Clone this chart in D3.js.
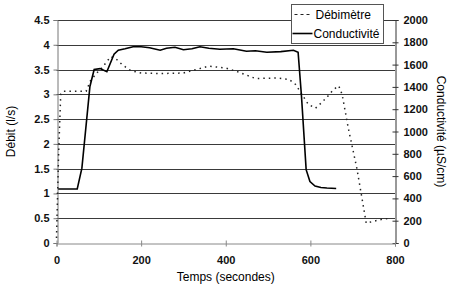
<!DOCTYPE html>
<html lang="fr">
<head>
<meta charset="UTF-8">
<title>Débit et conductivité</title>
<script src="https://cdn.jsdelivr.net/npm/d3@7"></script>
<style>
  body { margin: 0; background: #fff; }
  svg { display: block; font-family: "Liberation Sans", Arial, sans-serif; }
  .line { fill: none; }
</style>
</head>
<body>
<script>
// Débimètre (l/s)
const debitTime = [0, 5, 10, 15, 70, 80, 95, 107, 118, 128, 140, 155, 175, 200, 250, 300, 330, 360, 380, 400, 430, 470, 520, 550, 565, 580, 595, 612, 625, 640, 655, 667, 675, 690, 710, 725, 732, 750, 770, 790];
const debitVal  = [0.1, 1.8, 3.0, 3.06, 3.06, 3.27, 3.43, 3.53, 3.65, 3.76, 3.72, 3.6, 3.48, 3.43, 3.42, 3.43, 3.5, 3.57, 3.55, 3.53, 3.45, 3.32, 3.33, 3.3, 3.2, 3.0, 2.8, 2.72, 2.82, 2.95, 3.1, 3.17, 3.0, 2.3, 1.5, 0.75, 0.4, 0.44, 0.48, 0.5];

// Conductivité (µS/cm)
const condTime = [4, 49, 60, 79, 89, 103, 119, 136, 146, 162, 181, 200, 220, 245, 260, 280, 300, 320, 339, 360, 386, 418, 449, 470, 497, 530, 560, 571, 579, 590, 599, 611, 625, 639, 661];
const condVal  = [484, 484, 671, 1404, 1556, 1564, 1536, 1693, 1729, 1742, 1760, 1760, 1751, 1729, 1747, 1756, 1733, 1742, 1760, 1747, 1738, 1742, 1720, 1724, 1711, 1716, 1729, 1711, 1316, 658, 551, 511, 498, 493, 489];

const xTicks = [0, 200, 400, 600, 800];
const leftTicks = [0, 0.5, 1, 1.5, 2, 2.5, 3, 3.5, 4, 4.5];
const rightTicks = [0, 200, 400, 600, 800, 1000, 1200, 1400, 1600, 1800, 2000];

const width = 450, height = 287;
const margin = { top: 20, right: 55, bottom: 44, left: 56.5 };

const svg = d3.select("body").append("svg")
    .attr("width", width)
    .attr("height", height);

const xscale = d3.scaleLinear().domain([0, 800]).range([margin.left, width - margin.right]);
const yLeft = d3.scaleLinear().domain([0, 4.5]).range([height - margin.bottom, margin.top]);
const yRight = d3.scaleLinear().domain([0, 2000]).range([height - margin.bottom, margin.top]);

const x0 = xscale(0), x1 = xscale(800), yb = yLeft(0);

// gridlines
svg.append("g")
    .selectAll("line")
    .data(leftTicks.filter(d => d > 0))
    .enter().append("line")
    .attr("x1", x0).attr("x2", x1)
    .attr("y1", d => Math.round(yLeft(d)) + 0.5)
    .attr("y2", d => Math.round(yLeft(d)) + 0.5)
    .attr("stroke", "#3a3a3a")
    .attr("stroke-width", 1);

// left axis
const gl = svg.append("g")
    .attr("transform", `translate(${Math.round(x0) + 0.5},0)`)
    .call(d3.axisLeft(yLeft).tickValues(leftTicks).tickSize(4).tickPadding(4).tickFormat(d3.format("")));
gl.select(".domain").attr("stroke", "#777");
gl.selectAll(".tick line").attr("stroke", "#777");

// right axis
const gr = svg.append("g")
    .attr("transform", `translate(${Math.round(x1) + 0.5},0)`)
    .call(d3.axisRight(yRight).tickValues(rightTicks).tickSize(3).tickPadding(5).tickFormat(d3.format("")));
gr.select(".domain").attr("stroke", "#333");
gr.selectAll(".tick line").attr("x1", -3).attr("stroke", "#333");

// bottom axis
const gb = svg.append("g")
    .attr("transform", `translate(0,${Math.round(yb) + 0.5})`)
    .call(d3.axisBottom(xscale).tickValues(xTicks).tickSize(3).tickPadding(10));
gb.select(".domain").attr("stroke", "#888");
gb.selectAll(".tick line").attr("y1", -3).attr("stroke", "#888");

svg.selectAll(".tick text")
    .style("font-size", "11px")
    .style("font-weight", "bold")
    .style("font-family", "'Liberation Sans', Arial, sans-serif")
    .attr("fill", "#111");

// lines
const debitLine = d3.line()
    .x((d, i) => xscale(debitTime[i]))
    .y(d => yLeft(d));

const condLine = d3.line()
    .x((d, i) => xscale(condTime[i]))
    .y(d => yRight(d));

svg.append("path")
    .datum(debitVal)
    .attr("class", "line")
    .attr("d", debitLine)
    .attr("stroke", "#222")
    .attr("stroke-width", 1.5)
    .attr("stroke-dasharray", "1.5,4");

svg.append("path")
    .datum(condVal)
    .attr("class", "line")
    .attr("d", condLine)
    .attr("stroke", "#000")
    .attr("stroke-width", 1.6);

// axis titles
svg.append("text")
    .attr("transform", `translate(15,${(yLeft(4.5) + yb) / 2}) rotate(-90)`)
    .attr("text-anchor", "middle")
    .style("font-size", "12px")
    .text("Débit (l/s)");

svg.append("text")
    .attr("transform", `translate(437,${(yLeft(4.5) + yb) / 2}) rotate(90)`)
    .attr("text-anchor", "middle")
    .style("font-size", "12px")
    .text("Conductivité (µS/cm)");

svg.append("text")
    .attr("x", (x0 + x1) / 2)
    .attr("y", 281)
    .attr("text-anchor", "middle")
    .style("font-size", "12px")
    .text("Temps (secondes)");

// legend
const lg = svg.append("g").attr("transform", "translate(291.5,4.5)");
lg.append("rect")
    .attr("width", 92).attr("height", 39)
    .attr("fill", "#fff").attr("stroke", "#555");
lg.append("line").attr("x1", 3).attr("x2", 21).attr("y1", 10).attr("y2", 10)
    .attr("stroke", "#222").attr("stroke-width", 1.2).attr("stroke-dasharray", "3,3");
lg.append("text").attr("x", 24).attr("y", 14).style("font-size", "12px").text("Débimètre");
lg.append("line").attr("x1", 1).attr("x2", 21).attr("y1", 29).attr("y2", 29)
    .attr("stroke", "#000").attr("stroke-width", 1.6);
lg.append("text").attr("x", 22).attr("y", 33).style("font-size", "12px").text("Conductivité");
</script>
</body>
</html>
